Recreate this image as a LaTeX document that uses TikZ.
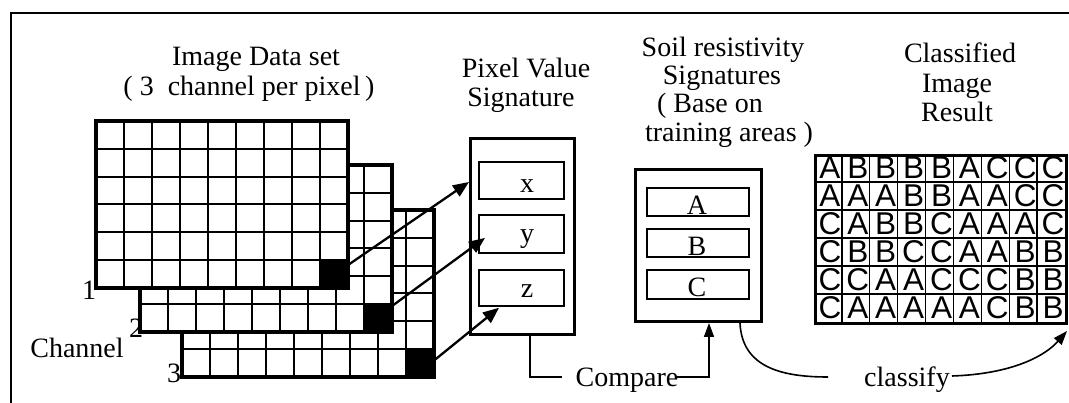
\documentclass[tikz,border=0pt]{standalone}
\usepackage{fontspec}
\setmainfont{Liberation Serif}
\newfontfamily\arialf{Liberation Sans}
\usetikzlibrary{arrows.meta,calc}
\tikzset{
 gridin/.style={line width=2pt},
 gridout/.style={line width=3.2pt},
 blk/.style={fill=black, draw=black, line width=1pt, minimum width=29pt, minimum height=27.8pt, inner sep=0pt, anchor=center},
 obox/.style={draw, line width=3pt, anchor=north west, inner sep=0pt},
 ibox/.style={draw, line width=1.8pt, anchor=north west, inner sep=0pt},
 txt/.style={font=\fontsize{28}{30}\selectfont, inner sep=0pt, anchor=base},
 cls/.style={font=\arialf\fontsize{31.5}{31.5}\selectfont, inner sep=0pt, anchor=center},
 arr/.style={line width=2.3pt, -{Triangle[length=16pt,width=13pt]}},
 conn/.style={line width=1.6pt},
 conarr/.style={line width=1.6pt, -{Triangle[length=14pt,width=10pt]}},
}
\newcommand\chgrid[3]{%
 \begin{scope}[shift={(#1,#2)}]
  \fill[white] (0,0) rectangle (252,167);
  \foreach \i in {1,...,8} \draw[gridin] (\i*28,0) -- (\i*28,167);
  \foreach \j in {1,...,5} \draw[gridin] (0,\j*167/6) -- (252,\j*167/6);
  \node[blk] (#3) at (237.5,167-167/12) {};
  \draw[gridout] (0,0) rectangle (252,167);
 \end{scope}}
\begin{document}
\begin{tikzpicture}[x=1pt,y=-1pt]
\useasboundingbox (0,0) rectangle (1069,403);
% frame
\draw[line width=2pt] (11,403) -- (11,13) -- (1069,13);

% channel grids
\chgrid{182}{210}{b3}
\chgrid{140}{165}{b2}
\chgrid{96}{121}{b1}

\node[txt] (n1) at (89,300) {1};
\node[txt] (n2) at (136,338) {2};
\node[txt] (n3) at (174,383) {3};
\node[txt] (chl) at (77,358) {Channel};

% titles
\node[txt] (t1a) at (256,66) {Image Data set};
\node[txt] (t1b) at (249,96) {(\ 3\ \ channel per pixel\,)};
\node[txt] (t2a) at (526,78) {Pixel Value};
\node[txt] (t2b) at (521,107) {Signature};
\node[txt] (t3a) at (723,57) {Soil resistivity};
\node[txt] (t3b) at (722,85) {Signatures};
\node[txt] (t3c) at (710,113) {(\ Base on};
\node[txt] (t3d) at (729,142) {training areas\ )};
\node[txt] (t4a) at (960,63) {Classified};
\node[txt] (t4b) at (957,93) {Image};
\node[txt] (t4c) at (957,122) {Result};

% pixel value signature
\node[obox, minimum width=104pt, minimum height=196pt] (pv) at (469,137) {};
\node[ibox, minimum width=85pt, minimum height=37pt] (xbox) at (478,161) {};
\node[ibox, minimum width=85pt, minimum height=38pt] (ybox) at (478,214) {};
\node[ibox, minimum width=85pt, minimum height=36pt] (zbox) at (478,269) {};
\node[txt] (tx) at (527,193) {x};
\node[txt] (ty) at (527,243) {y};
\node[txt] (tz) at (527,298) {z};

% soil signatures
\node[obox, minimum width=126pt, minimum height=152pt] (soil) at (634,168) {};
\node[ibox, minimum width=102pt, minimum height=28pt] (abox) at (646,187) {};
\node[ibox, minimum width=102pt, minimum height=28pt] (bbox) at (646,228) {};
\node[ibox, minimum width=102pt, minimum height=29pt] (cbox) at (646,269) {};
\node[txt] (ta) at (697,215) {A};
\node[txt] (tb) at (697,256) {B};
\node[txt] (tc) at (697,297) {C};

% classified grid
\foreach \i in {1,...,8} \draw[line width=1.3pt] (814+\i*251/9,154) -- (814+\i*251/9,322);
\foreach \j in {1,...,5} \draw[line width=1.3pt] (814,154+\j*28) -- (1065,154+\j*28);
\foreach \r/\row in {0/{A,B,B,B,B,A,C,C,C},1/{A,A,A,B,B,A,A,C,C},2/{C,A,B,B,C,A,A,A,C},3/{C,B,B,C,C,A,A,B,B},4/{C,C,A,A,C,C,C,B,B},5/{C,A,A,A,A,A,C,B,B}}
 \foreach \l [count=\c from 0] in \row
  \node[cls] at (816+\c*251/9+251/18,168+\r*28) {\l};
\node[obox, minimum width=251pt, minimum height=168pt] (cg) at (814,154) {};

% arrows from black pixels
\draw[arr] ($(b1.north east)+(0,5)$) -- ($(pv.north west)+(0,45)$);
\draw[arr] ($(b2.north east)+(0,2)$) -- ($(ybox.west)+(7,4)$);
\draw[arr] ($(b3.east)+(0,-3)$) -- ($(zbox.south west)+(21,1)$);

% compare
\coordinate (c1) at (562,377);
\coordinate (c2) at (676,377);
\draw[conn] ($(pv.south west)+(61,0)$) |- (c1);
\draw[conarr] (c2) -| ($(soil.south west)+(75,0)$);
\node[txt] (cmp) at (627,387) {Compare};

% classify
\coordinate (k1) at (828,377);
\coordinate (k2) at (952,376);
\draw[conn] ($(soil.south west)+(106,0)$) .. controls +(2,45) and +(-45,0) .. (k1);
\draw[conarr] (k2) .. controls +(60,-2) and +(-22,25) .. ($(cg.south east)+(-1,6)$);
\node[txt] (cls) at (907,387) {classify};
\end{tikzpicture}
\end{document}
